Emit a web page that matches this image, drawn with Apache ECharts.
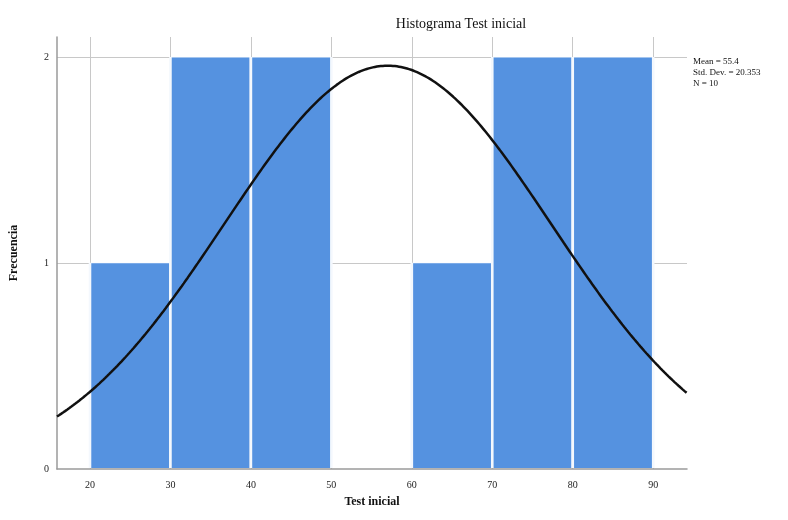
<!DOCTYPE html>
<html>
<head>
<meta charset="utf-8">
<script src="https://cdn.jsdelivr.net/npm/echarts@6/dist/echarts.min.js"></script>
<style>html,body{margin:0;padding:0;background:#fff}#c{width:788px;height:520px}</style>
</head>
<body>
<div id="c"></div>
<script>
var binStarts = [20, 30, 40, 50, 60, 70, 80];
var binCounts = [1, 2, 2, 0, 1, 2, 2];
var binWidth = 10;
var xTicks = [20, 30, 40, 50, 60, 70, 80, 90];
var yTicks = [0, 1, 2];
var statLabels = ['Mean = 55.4', 'Std. Dev. = 20.353', 'N = 10'];
var curveMean = 57.0;
var curveSd = 20.35;
var curveN = 10;
var xMin = 15.9, xMax = 94.2;

var chart = echarts.init(document.getElementById('c'));
var serif = '"Liberation Serif", "DejaVu Serif", serif';

var barData = binStarts.map(function (s, i) { return [s, s + binWidth, binCounts[i]]; }).filter(function (d) { return d[2] > 0; });

var curve = [];
for (var x = xMin; x <= xMax + 1e-9; x += 0.25) {
  var z = (x - curveMean) / curveSd;
  curve.push([x, curveN * binWidth * Math.exp(-z * z / 2) / (curveSd * Math.sqrt(2 * Math.PI))]);
}

var gridLines = xTicks.map(function (v) { return { xAxis: v }; }).concat(yTicks.filter(function (v) { return v > 0; }).map(function (v) { return { yAxis: v }; }));

chart.setOption({
  animation: false,
  backgroundColor: '#fff',
  title: {
    text: 'Histograma Test inicial',
    left: 456, top: 12, textAlign: 'center',
    textStyle: { fontFamily: serif, fontSize: 14, fontWeight: 'normal', color: '#111' }
  },
  graphic: [{
    type: 'text', left: 693, top: 56,
    style: { text: statLabels.join('\n'), font: '9px ' + serif, fill: '#111', lineHeight: 11 }
  }],
  grid: { left: 57, right: 101, top: 37, bottom: 51 },
  xAxis: {
    type: 'value', min: xMin, max: xMax,
    name: 'Test inicial', nameLocation: 'middle', nameGap: 27,
    nameTextStyle: { fontFamily: serif, fontSize: 12, fontWeight: 'bold', color: '#111' },
    axisLine: { show: true, lineStyle: { color: '#9a9a9a', width: 1.5 } },
    axisTick: { show: false },
    splitLine: { show: false },
    axisLabel: { customValues: xTicks, fontFamily: serif, fontSize: 10, color: '#222', margin: 11 }
  },
  yAxis: {
    type: 'value', min: 0, max: 2.1, interval: 1,
    name: 'Frecuencia', nameLocation: 'middle', nameGap: 37, nameRotate: 90,
    nameTextStyle: { fontFamily: serif, fontSize: 12, fontWeight: 'bold', color: '#111' },
    axisLine: { show: true, lineStyle: { color: '#9a9a9a', width: 1.5 } },
    axisTick: { show: false },
    splitLine: { show: false },
    axisLabel: {
      fontFamily: serif, fontSize: 10, color: '#222', margin: 8,
      formatter: function (v) { return yTicks.indexOf(v) >= 0 ? String(v) : ''; }
    }
  },
  series: [
    {
      type: 'line', data: [], z: 0, silent: true,
      markLine: {
        silent: true, symbol: 'none', label: { show: false }, z: 0,
        lineStyle: { color: '#c8c8c8', width: 1, type: 'solid' },
        data: gridLines
      }
    },
    {
      type: 'custom', z: 2, data: barData,
      renderItem: function (params, api) {
        var p0 = api.coord([api.value(0), api.value(2)]);
        var p1 = api.coord([api.value(1), 0]);
        var w = p1[0] - p0[0], h = p1[1] - p0[1] - 1;
        return {
          type: 'group',
          children: [
            { type: 'rect', shape: { x: p0[0] - 1.3, y: p0[1] - 0.5, width: w + 2.6, height: h + 0.5 }, style: { fill: '#f4f8fd' } },
            { type: 'rect', shape: { x: p0[0] + 1.3, y: p0[1], width: w - 2.6, height: h }, style: { fill: '#5592e0' } }
          ]
        };
      },
      encode: { x: [0, 1], y: 2 }
    },
    {
      type: 'line', z: 3, data: curve, showSymbol: false, smooth: false,
      lineStyle: { color: '#111', width: 2.5 }
    }
  ]
});
</script>
</body>
</html>
